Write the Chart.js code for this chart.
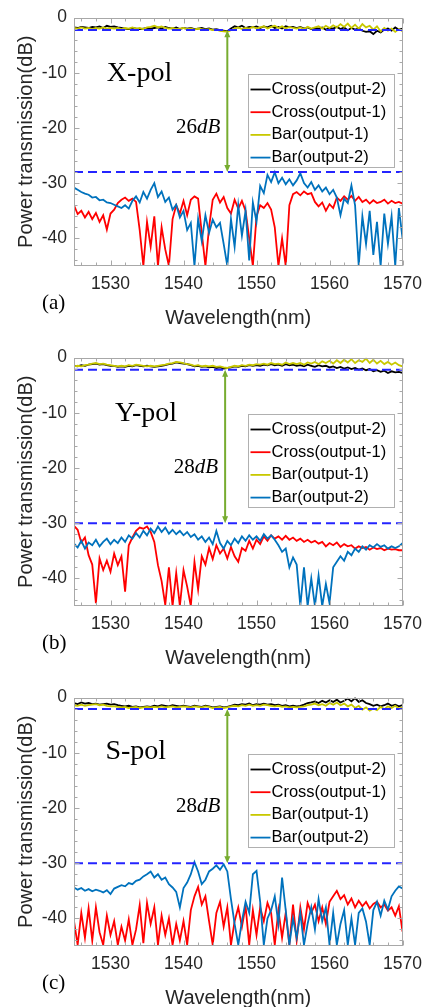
<!DOCTYPE html>
<html>
<head>
<meta charset="utf-8">
<script src="https://cdn.jsdelivr.net/npm/chart.js@4.4.1/dist/chart.umd.min.js"></script>
<style>
  html, body { margin: 0; padding: 0; background: #fff; }
  body { width: 430px; height: 1007px; overflow: hidden; position: relative; }
  canvas { position: absolute; left: 0; }
</style>
</head>
<body>
<canvas id="pa" width="430" height="330" style="top:0px"></canvas>
<canvas id="pb" width="430" height="330" style="top:340px"></canvas>
<canvas id="pc" width="430" height="330" style="top:680px"></canvas>
<script>
// wavelength grid (nm), 0.5 nm steps
const wavelength = [
  1525,1525.5,1526,1526.5,1527,1527.5,1528,1528.5,1529,1529.5,
  1530,1530.5,1531,1531.5,1532,1532.5,1533,1533.5,1534,1534.5,
  1535,1535.5,1536,1536.5,1537,1537.5,1538,1538.5,1539,1539.5,
  1540,1540.5,1541,1541.5,1542,1542.5,1543,1543.5,1544,1544.5,
  1545,1545.5,1546,1546.5,1547,1547.5,1548,1548.5,1549,1549.5,
  1550,1550.5,1551,1551.5,1552,1552.5,1553,1553.5,1554,1554.5,
  1555,1555.5,1556,1556.5,1557,1557.5,1558,1558.5,1559,1559.5,
  1560,1560.5,1561,1561.5,1562,1562.5,1563,1563.5,1564,1564.5,
  1565,1565.5,1566,1566.5,1567,1567.5,1568,1568.5,1569,1569.5,
  1570
];
const xTicks = [1530, 1540, 1550, 1560, 1570];
const yTicks = [0, -10, -20, -30, -40];
const seriesNames = ['Cross(output-2)', 'Cross(output-1)', 'Bar(output-1)', 'Bar(output-2)'];
const seriesColors = ['#000000', '#ff0000', '#c8c800', '#0072bd'];

// ---- (a) X-pol ----
const aCross2 = [
  -1.8,-1.9,-1.7,-1.8,-1.9,-1.7,-1.8,-1.6,-1.9,-1.5,-1.7,
  -1.6,-1.8,-1.9,-2.0,-2.1,-1.9,-2.0,-2.1,-2.0,-1.9,
  -2.0,-1.9,-1.8,-2.0,-1.7,-1.9,-2.0,-1.8,-2.1,-1.9,
  -2.0,-1.9,-2.1,-2.0,-1.9,-2.1,-2.0,-2.2,-2.1,-2.3,
  -2.4,-2.5,-2.0,-1.6,-1.8,-1.5,-1.9,-1.7,-1.8,-1.6,
  -1.9,-1.6,-1.8,-1.5,-1.9,-1.7,-2.0,-1.6,-1.8,-1.7,
  -1.9,-1.7,-2.0,-1.8,-2.1,-1.9,-2.0,-1.8,-2.2,-1.9,
  -2.0,-1.7,-2.1,-1.8,-2.3,-1.9,-2.2,-2.0,-2.4,-2.6,
  -2.5,-3.0,-2.4,-2.7,-2.2,-2.0,-2.4,-1.8,-2.2,-2.0
];
const aCross1 = [
  -34.0,-35.6,-35.0,-36.2,-35.2,-36.5,-35.4,-37.0,-35.8,-38.4,
  -35.5,-34.8,-33.6,-33.0,-32.6,-33.2,-32.8,-33.4,-38.5,-45.0,
  -37.0,-41.5,-36.0,-45.0,-38.0,-42.0,-45.0,-36.5,-34.0,-35.5,
  -33.2,-35.8,-33.0,-32.4,-32.8,-39.0,-45.0,-38.0,-33.0,-31.9,
  -33.5,-32.5,-34.5,-35.5,-33.0,-34.6,-33.2,-35.0,-40.0,-45.0,
  -36.0,-34.0,-34.5,-33.6,-34.8,-38.0,-45.0,-40.0,-45.0,-34.0,
  -32.0,-31.6,-32.2,-31.5,-32.0,-31.8,-33.4,-34.2,-33.5,-35.0,
  -33.8,-34.5,-32.6,-33.2,-32.4,-33.0,-32.3,-33.2,-32.5,-33.4,
  -33.0,-33.7,-33.1,-33.6,-33.4,-33.0,-33.7,-33.2,-33.6,-33.4,
  -33.7
];
const aBar1 = [
  -1.9,-2.0,-1.8,-2.0,-1.9,-2.1,-1.9,-2.0,-1.8,-2.0,-1.9,
  -2.0,-1.9,-2.1,-1.9,-2.0,-1.8,-2.0,-1.9,-2.1,-1.8,
  -1.7,-1.5,-1.8,-1.6,-1.9,-2.0,-1.9,-2.1,-2.0,-1.9,
  -2.1,-2.0,-2.2,-2.0,-2.1,-2.2,-2.1,-2.3,-2.2,-2.4,
  -2.5,-2.6,-2.3,-2.0,-1.8,-2.1,-1.9,-2.0,-1.7,-2.0,
  -1.8,-1.6,-2.0,-1.7,-1.5,-1.9,-1.6,-2.0,-1.7,-1.9,
  -2.0,-1.8,-2.1,-1.7,-2.0,-1.8,-1.6,-2.0,-1.5,-1.9,
  -1.4,-1.8,-1.2,-1.7,-1.1,-1.9,-1.3,-2.0,-1.2,-1.8,
  -1.5,-2.2,-1.6,-2.5,-1.9,-2.4,-2.0,-2.6,-2.1,-2.5
];
const aBar2 = [
  -30.8,-31.2,-31.6,-31.9,-32.1,-32.6,-32.5,-33.1,-33.0,-33.5,
  -33.6,-33.9,-34.2,-34.5,-34.0,-34.6,-33.2,-32.4,-33.5,-31.6,
  -32.8,-31.2,-30.0,-32.5,-31.5,-33.4,-32.6,-34.8,-33.9,-36.2,
  -35.0,-38.5,-37.2,-45.0,-36.5,-40.5,-35.8,-39.0,-36.6,-38.0,
  -37.2,-41.0,-45.0,-36.5,-41.5,-34.0,-39.5,-35.0,-44.0,-33.5,
  -37.0,-30.5,-31.8,-28.5,-29.8,-28.0,-30.0,-29.0,-30.2,-29.3,
  -30.4,-29.5,-28.2,-30.0,-30.8,-29.8,-31.2,-30.4,-31.5,-30.8,
  -32.0,-31.2,-32.6,-35.8,-32.8,-33.6,-30.4,-34.0,-45.0,-36.0,
  -41.0,-35.0,-43.0,-37.0,-45.0,-35.5,-41.0,-36.0,-45.0,-34.5,
  -40.0
];

// ---- (b) Y-pol ----
const bCross2 = [
  -1.5,-1.6,-1.4,-1.5,-1.3,-1.2,-1.1,-1.3,-1.2,-1.4,-1.5,
  -1.5,-1.7,-1.6,-1.7,-1.5,-1.6,-1.4,-1.5,-1.6,-1.5,
  -1.6,-1.7,-1.6,-1.5,-1.4,-1.2,-1.1,-0.9,-1.0,-1.1,
  -1.2,-1.4,-1.6,-1.5,-1.7,-1.6,-1.8,-1.7,-1.9,-1.8,
  -2.0,-1.9,-1.8,-1.6,-1.7,-1.5,-1.6,-1.4,-1.5,-1.4,
  -1.5,-1.3,-1.4,-1.2,-1.4,-1.3,-1.5,-1.2,-1.4,-1.3,
  -1.5,-1.4,-1.6,-1.3,-1.5,-1.7,-1.4,-1.6,-1.5,-1.8,
  -1.6,-1.9,-1.7,-2.0,-1.8,-2.1,-1.9,-2.2,-2.0,-2.3,
  -2.1,-2.5,-2.3,-2.6,-2.4,-2.8,-2.5,-2.7,-2.6,-2.8
];
const bCross1 = [
  -30.5,-31.2,-33.5,-32.6,-35.8,-37.5,-44.5,-36.4,-38.5,-36.8,
  -38.8,-35.5,-37.6,-36.0,-42.4,-34.0,-32.6,-31.4,-30.8,-31.0,
  -30.6,-31.6,-33.4,-37.6,-40.5,-44.8,-38.0,-45.0,-39.0,-45.0,
  -38.5,-41.5,-45.0,-37.0,-42.0,-36.0,-37.5,-34.5,-36.5,-34.0,
  -35.5,-34.6,-36.4,-34.3,-36.0,-37.0,-34.5,-35.0,-33.2,-34.6,
  -33.0,-33.8,-32.4,-33.2,-32.2,-32.8,-32.4,-33.0,-32.3,-33.0,
  -32.6,-33.2,-32.8,-33.4,-33.0,-33.5,-33.2,-33.7,-33.4,-34.2,
  -33.6,-34.0,-33.5,-34.3,-33.8,-34.2,-34.0,-34.6,-34.2,-34.5,
  -34.3,-34.8,-34.4,-34.7,-34.5,-34.9,-34.6,-34.8,-34.7,-34.9,
  -34.9
];
const bBar1 = [
  -1.6,-1.5,-1.6,-1.4,-1.3,-1.1,-1.0,-1.2,-1.1,-1.3,-1.4,
  -1.5,-1.6,-1.5,-1.6,-1.4,-1.5,-1.3,-1.4,-1.5,-1.6,
  -1.5,-1.6,-1.5,-1.4,-1.3,-1.1,-1.0,-0.8,-0.9,-1.0,
  -1.2,-1.3,-1.5,-1.4,-1.6,-1.5,-1.6,-1.5,-1.7,-1.6,
  -1.8,-1.9,-1.7,-1.5,-1.6,-1.4,-1.5,-1.3,-1.4,-1.2,
  -1.3,-1.1,-1.3,-1.0,-1.2,-1.1,-1.3,-0.9,-1.2,-1.0,
  -1.2,-1.0,-1.3,-0.9,-1.1,-0.8,-1.2,-0.7,-1.0,-0.6,
  -1.1,-0.5,-1.0,-0.4,-0.9,-0.3,-1.0,-0.5,-0.8,-0.2,
  -1.0,-0.4,-1.1,-0.6,-1.2,-0.8,-1.3,-0.9,-1.4,-1.6
];
const bBar2 = [
  -33.7,-34.4,-33.2,-34.6,-33.5,-34.0,-33.0,-34.2,-33.4,-32.8,
  -33.8,-33.0,-33.6,-32.6,-33.4,-32.2,-32.8,-31.8,-32.6,-31.4,
  -32.2,-31.0,-31.8,-30.6,-31.6,-30.8,-31.9,-31.2,-32.0,-31.4,
  -32.2,-31.6,-32.5,-32.0,-33.0,-32.4,-33.4,-32.6,-33.8,-31.4,
  -33.6,-34.6,-33.2,-34.0,-32.8,-33.6,-32.4,-33.2,-32.2,-33.0,
  -32.4,-33.2,-32.0,-32.8,-32.2,-33.0,-34.0,-35.2,-34.6,-38.0,
  -36.2,-37.5,-45.0,-38.0,-45.0,-40.0,-45.0,-39.5,-45.0,-41.0,
  -44.5,-38.0,-37.0,-36.0,-36.8,-35.2,-35.8,-34.6,-35.2,-34.2,
  -34.8,-34.0,-34.4,-33.8,-34.3,-34.0,-34.6,-34.2,-34.5,-34.2,
  -33.6
];

// ---- (c) S-pol ----
const cCross2 = [
  -1.0,-1.2,-0.9,-1.1,-1.0,-1.2,-1.1,-1.3,-1.2,-1.1,-1.3,
  -1.2,-1.4,-1.5,-1.6,-1.5,-1.7,-1.6,-1.8,-1.7,-1.6,
  -1.7,-1.5,-1.6,-1.4,-1.5,-1.6,-1.4,-1.5,-1.6,-1.5,
  -1.6,-1.7,-1.5,-1.6,-1.7,-1.5,-1.6,-1.8,-1.7,-1.6,
  -1.8,-1.7,-1.5,-1.3,-1.4,-1.2,-1.3,-1.1,-1.4,-1.2,
  -1.3,-1.1,-1.3,-1.2,-1.4,-1.3,-1.5,-1.4,-1.6,-1.5,
  -1.6,-1.5,-1.3,-1.0,-0.9,-0.7,-1.0,-0.6,-0.9,-0.5,
  -0.8,-0.4,-0.9,-0.6,-0.2,-0.7,-0.1,-0.8,-0.5,-1.0,
  -1.2,-1.5,-1.3,-1.6,-1.4,-1.1,-1.5,-1.3,-1.6,-1.4
];
const cCross1 = [
  -40.5,-44.8,-39.0,-43.5,-38.2,-44.0,-38.0,-42.5,-44.8,-39.5,
  -43.0,-40.5,-44.8,-41.5,-44.0,-40.2,-44.8,-42.0,-37.6,-44.5,
  -37.2,-41.0,-38.0,-44.8,-39.5,-43.0,-40.0,-44.8,-41.0,-44.0,
  -40.5,-44.8,-38.5,-36.0,-34.3,-37.5,-36.0,-40.5,-44.8,-39.0,
  -37.0,-41.5,-38.0,-44.8,-40.5,-38.0,-41.5,-37.8,-44.8,-38.5,
  -43.0,-38.0,-40.5,-37.2,-39.0,-44.8,-38.5,-43.5,-39.0,-44.8,
  -37.5,-44.0,-38.0,-42.0,-37.2,-39.0,-37.5,-40.5,-38.0,-41.0,
  -37.0,-36.0,-35.0,-36.5,-35.8,-37.5,-36.4,-38.0,-36.8,-37.8,
  -37.0,-38.2,-37.4,-37.0,-38.0,-37.5,-38.6,-38.0,-39.5,-37.8,
  -42.4
];
const cBar1 = [
  -1.4,-1.5,-1.3,-1.5,-1.4,-1.3,-1.2,-1.4,-1.3,-1.5,-1.6,
  -1.6,-1.7,-1.8,-1.7,-1.9,-1.8,-1.7,-1.9,-1.8,-1.7,
  -1.8,-1.7,-1.8,-1.6,-1.8,-1.7,-1.6,-1.8,-1.7,-1.6,
  -1.7,-1.8,-1.6,-1.7,-1.8,-1.6,-1.7,-1.9,-1.8,-1.7,
  -1.9,-1.8,-1.6,-1.5,-1.6,-1.4,-1.5,-1.3,-1.5,-1.4,
  -1.5,-1.3,-1.4,-1.5,-1.6,-1.5,-1.7,-1.6,-1.8,-1.7,
  -1.8,-1.7,-1.6,-1.4,-1.3,-1.1,-1.4,-1.2,-1.5,-1.0,
  -1.3,-0.9,-1.4,-1.1,-1.6,-1.3,-1.9,-1.5,-2.2,-1.8,
  -2.4,-2.0,-2.3,-1.7,-2.1,-1.6,-1.9,-1.5,-2.0,-1.8
];
const cBar2 = [
  -34.4,-34.8,-34.5,-35.0,-34.7,-35.1,-34.8,-35.0,-35.3,-34.9,
  -35.6,-34.6,-34.3,-34.0,-34.2,-33.6,-33.8,-33.2,-33.0,-32.4,
  -32.0,-31.5,-32.6,-32.0,-33.0,-32.6,-33.8,-34.4,-35.2,-38.0,
  -34.5,-33.5,-32.0,-29.8,-31.5,-33.8,-33.0,-31.5,-31.0,-30.4,
  -31.2,-30.2,-31.5,-36.5,-41.0,-44.8,-40.5,-37.0,-39.0,-32.0,
  -31.4,-37.0,-44.8,-40.0,-38.5,-36.0,-41.0,-32.6,-38.5,-44.8,
  -40.0,-43.5,-39.0,-44.8,-41.0,-38.0,-42.0,-36.5,-40.5,-38.0,
  -44.8,-39.0,-44.8,-41.0,-38.5,-44.8,-40.0,-44.8,-39.0,-38.2,
  -40.6,-44.8,-38.5,-37.0,-39.5,-36.8,-38.4,-36.0,-35.0,-34.2,
  -34.6
];

const SANS = '"Liberation Sans", Arial, sans-serif';
const SERIF = '"Liberation Serif", "Times New Roman", serif';

// frame, inward ticks, arrow, labels and legend
const decoPlugin = {
  id: 'deco',
  afterDatasetsDraw(chart, args, o) {
    const ctx = chart.ctx, a = chart.chartArea;
    const xs = chart.scales.x, ys = chart.scales.y;
    ctx.save();
    // axes box with inward ticks
    ctx.strokeStyle = '#a8a8a8';
    ctx.lineWidth = 1;
    const L = Math.round(a.left) + 0.5, R = Math.round(a.right) - 0.5;
    const T = Math.round(a.top) + 0.5, B = Math.round(a.bottom) - 0.5;
    ctx.strokeRect(L, T, R - L, B - T);
    ctx.beginPath();
    for (let w = 1526; w < 1570; w += 2) {
      const px = Math.round(xs.getPixelForValue(w)) + 0.5;
      ctx.moveTo(px, B); ctx.lineTo(px, B - 3);
      ctx.moveTo(px, T); ctx.lineTo(px, T + 3);
    }
    for (const w of xTicks) {
      const px = Math.round(xs.getPixelForValue(w)) + 0.5;
      ctx.moveTo(px, B); ctx.lineTo(px, B - 5);
      ctx.moveTo(px, T); ctx.lineTo(px, T + 5);
    }
    for (let v = -44; v < 0; v += 2) {
      const py = Math.round(ys.getPixelForValue(v)) + 0.5;
      const len = v % 10 === 0 ? 5 : 3;
      ctx.moveTo(L, py); ctx.lineTo(L + len, py);
      ctx.moveTo(R, py); ctx.lineTo(R - len, py);
    }
    ctx.stroke();

    // green double arrow
    const ax = xs.getPixelForValue(o.arrowX);
    const ay1 = ys.getPixelForValue(o.arrowTop), ay2 = ys.getPixelForValue(o.arrowBot);
    ctx.strokeStyle = ctx.fillStyle = '#77ac30';
    ctx.lineWidth = 2;
    ctx.beginPath();
    ctx.moveTo(ax, ay1 + 6); ctx.lineTo(ax, ay2 - 6);
    ctx.stroke();
    ctx.beginPath();
    ctx.moveTo(ax, ay1); ctx.lineTo(ax - 3, ay1 + 7); ctx.lineTo(ax + 3, ay1 + 7); ctx.closePath();
    ctx.moveTo(ax, ay2); ctx.lineTo(ax - 3, ay2 - 7); ctx.lineTo(ax + 3, ay2 - 7); ctx.closePath();
    ctx.fill();

    // polarisation label
    ctx.fillStyle = '#000';
    ctx.textBaseline = 'alphabetic';
    ctx.textAlign = 'left';
    ctx.font = '28px ' + SERIF;
    ctx.fillText(o.pol, xs.getPixelForValue(o.polX), ys.getPixelForValue(o.polY));

    // extinction label: number upright, dB italic
    const dbY = ys.getPixelForValue(o.dbY);
    ctx.font = 'italic 21px ' + SERIF;
    const wUnit = ctx.measureText('dB').width;
    ctx.font = '21px ' + SERIF;
    const wNum = ctx.measureText(o.dbNum).width;
    const right = ax - 7;
    ctx.fillText(o.dbNum, right - wUnit - wNum, dbY);
    ctx.font = 'italic 21px ' + SERIF;
    ctx.fillText('dB', right - wUnit, dbY);

    // legend box
    const bw = 146, bh = 93;
    const bx = Math.round(a.right - 9 - bw) + 0.5, by = Math.round(a.top + 56.5) + 0.5;
    ctx.fillStyle = '#fff';
    ctx.fillRect(bx, by, bw, bh);
    ctx.strokeStyle = '#b0b0b0';
    ctx.lineWidth = 1;
    ctx.strokeRect(bx, by, bw, bh);
    ctx.font = '16.5px ' + SANS;
    ctx.textBaseline = 'middle';
    seriesNames.forEach((name, i) => {
      const yy = by + 15 + i * 22.7;
      ctx.strokeStyle = seriesColors[i];
      ctx.lineWidth = 1.8;
      ctx.beginPath();
      ctx.moveTo(bx + 2, yy); ctx.lineTo(bx + 22, yy);
      ctx.stroke();
      ctx.fillStyle = '#000';
      ctx.fillText(name, bx + 23, yy);
    });

    // panel letter
    ctx.font = '21px ' + SERIF;
    ctx.fillStyle = '#000';
    ctx.textBaseline = 'middle';
    ctx.fillText(o.letter, 42, 303);
    ctx.restore();
  }
};

function pts(vals) {
  return wavelength.map((w, i) => ({ x: w, y: vals[i] }));
}

function makePanel(id, top, series, levels, opts) {
  const datasets = series.map((vals, i) => ({
    label: seriesNames[i],
    data: pts(vals),
    borderColor: seriesColors[i],
    borderWidth: 1.8,
    pointRadius: 0,
    tension: 0,
    order: 4 - i
  }));
  levels.forEach(lv => datasets.push({
    label: 'level',
    data: [{ x: 1525, y: lv }, { x: 1570, y: lv }],
    borderColor: '#2424ff',
    borderWidth: 2,
    borderDash: [9, 5],
    pointRadius: 0,
    order: 0
  }));
  new Chart(document.getElementById(id), {
    type: 'line',
    data: { datasets },
    options: {
      responsive: false,
      animation: false,
      devicePixelRatio: 1,
      layout: { padding: { top: top, right: 24, left: 0, bottom: 0 } },
      plugins: { legend: { display: false }, tooltip: { enabled: false }, deco: opts },
      scales: {
        x: {
          type: 'linear', min: 1525, max: 1570,
          afterBuildTicks: s => { s.ticks = xTicks.map(v => ({ value: v })); },
          afterFit: s => { s.height = 64; },
          grid: { display: false, drawTicks: false },
          border: { display: false },
          ticks: { color: '#262626', font: { family: SANS, size: 17.5 }, padding: 8, maxRotation: 0,
                   callback: v => String(v) },
          title: { display: true, text: 'Wavelength(nm)', color: '#262626',
                   font: { family: SANS, size: 20 }, padding: { top: 6, bottom: 0 } }
        },
        y: {
          type: 'linear', min: -45, max: 0,
          afterBuildTicks: s => { s.ticks = yTicks.map(v => ({ value: v })); },
          afterFit: s => { s.width = 74; },
          grid: { display: false, drawTicks: false },
          border: { display: false },
          ticks: { color: '#262626', font: { family: SANS, size: 17.5 }, padding: 7,
                   callback: v => String(v) },
          title: { display: true, text: 'Power transmission(dB)', color: '#262626',
                   font: { family: SANS, size: 20 }, padding: { top: 14.5, bottom: 0 } }
        }
      }
    },
    plugins: [decoPlugin]
  });
}

makePanel('pa', 14.7, [aCross2, aCross1, aBar1, aBar2], [-2.25, -28],
  { arrowX: 1546, arrowTop: -2.3, arrowBot: -28, pol: 'X-pol', polX: 1529.5, polY: -11.5,
    dbNum: '26', dbY: -20.9, letter: '(a)' });
makePanel('pb', 15, [bCross2, bCross1, bBar1, bBar2], [-2.2, -30],
  { arrowX: 1545.7, arrowTop: -2.2, arrowBot: -30, pol: 'Y-pol', polX: 1530.6, polY: -11.5,
    dbNum: '28', dbY: -20.9, letter: '(b)' });
makePanel('pc', 15.7, [cCross2, cCross1, cBar1, cBar2], [-2.1, -30],
  { arrowX: 1546, arrowTop: -2.1, arrowBot: -30, pol: 'S-pol', polX: 1529.3, polY: -11.2,
    dbNum: '28', dbY: -20.7, letter: '(c)' });
</script>
</body>
</html>
